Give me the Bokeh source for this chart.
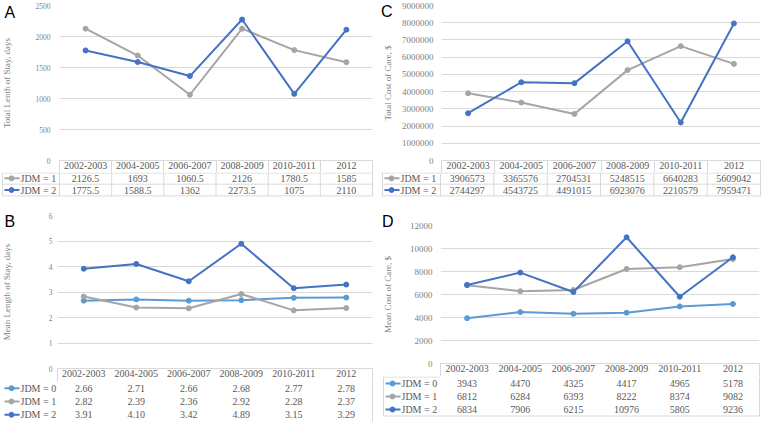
import math
from bokeh.plotting import figure
from bokeh.models import Range1d, FixedTicker, BasicTickFormatter
from bokeh.layouts import column, row
from bokeh.core.properties import value
from bokeh.embed import file_html
from bokeh.resources import INLINE

# ---------------- data ----------------
periods = ["2002-2003", "2004-2005", "2006-2007", "2008-2009", "2010-2011", "2012"]

a_ticks = [0, 500, 1000, 1500, 2000, 2500]
a_jdm1 = [2126.5, 1693, 1060.5, 2126, 1780.5, 1585]
a_jdm2 = [1775.5, 1588.5, 1362, 2273.5, 1075, 2110]

c_ticks = [0, 1000000, 2000000, 3000000, 4000000, 5000000, 6000000, 7000000, 8000000, 9000000]
c_jdm1 = [3906573, 3365576, 2704531, 5248515, 6640283, 5609042]
c_jdm2 = [2744297, 4543725, 4491015, 6923076, 2210579, 7959471]

b_ticks = [0, 1, 2, 3, 4, 5, 6]
b_jdm0 = [2.66, 2.71, 2.66, 2.68, 2.77, 2.78]
b_jdm1 = [2.82, 2.39, 2.36, 2.92, 2.28, 2.37]
b_jdm2 = [3.91, 4.10, 3.42, 4.89, 3.15, 3.29]

d_ticks = [0, 2000, 4000, 6000, 8000, 10000, 12000]
d_jdm0 = [3943, 4470, 4325, 4417, 4965, 5178]
d_jdm1 = [6812, 6284, 6393, 8222, 8374, 9082]
d_jdm2 = [6834, 7906, 6215, 10976, 5805, 9236]

# ---------------- style ----------------
GRAY = "#A5A5A5"
DARK = "#4472C4"
LIGHT = "#5B9BD5"
GRID = "#D9D9D9"
SERIF = "Liberation Serif"
SANS = "Liberation Sans"
TXT = "#595959"
AX = "#7F7F7F"
SIDE_W = 18
TABLE_FONT = "10px"


def fmt_g(v):
    return f"{v:g}"


def fmt_2(v):
    return f"{v:.2f}"


def fmt_i(v):
    return f"{int(v)}"


def plain_fig(width, height, x_range, y_range):
    f = figure(width=width, height=height, x_range=x_range, y_range=y_range,
               output_backend="svg", toolbar_location=None, min_border=0,
               x_axis_location=None, y_axis_location=None, frame_align=False)
    f.outline_line_color = None
    f.background_fill_color = "white"
    f.border_fill_color = "white"
    f.grid.visible = False
    return f


def make_panel(cfg, series, fmt):
    width = cfg["width"]
    fl = cfg["left"]
    fr = width - cfg["right"]
    n = len(periods)
    unit = (fr - fl) / n
    xs = list(range(n))
    ticks = cfg["ticks"]
    ymax = ticks[-1]
    ch = cfg["chart_h"]

    # ---- side strip: panel letter and y title ----
    side = plain_fig(SIDE_W, ch, Range1d(0, SIDE_W), Range1d(ch, 0))
    side.text(x=[cfg["letter_x"]], y=[cfg["letter_y"]], text=[cfg["letter"]],
              text_font=value(SANS), text_font_size=value("16px"), text_color="black",
              text_align="left", text_baseline="top")
    frame_mid = cfg["top"] + (ch - cfg["top"] - cfg["bottom"]) / 2
    side.text(x=[cfg["ylabel_x"]], y=[frame_mid], text=[cfg["ylabel"]], angle=math.pi / 2,
              text_font=value(SERIF), text_font_size=value("9px"), text_color=AX,
              text_align="center", text_baseline="middle")

    # ---- line chart ----
    chart = figure(width=width - SIDE_W, height=ch,
                   x_range=Range1d(-0.5, n - 0.5), y_range=Range1d(0, ymax),
                   output_backend="svg", toolbar_location=None, frame_align=False,
                   min_border_left=fl - SIDE_W, min_border_right=cfg["right"],
                   min_border_top=cfg["top"], min_border_bottom=cfg["bottom"])
    chart.outline_line_color = None
    chart.background_fill_color = "white"
    chart.border_fill_color = "white"
    chart.xgrid.visible = False
    chart.ygrid.grid_line_color = GRID
    chart.ygrid.grid_line_width = 1

    yax = chart.yaxis[0]
    yax.ticker = FixedTicker(ticks=ticks)
    yax.formatter = BasicTickFormatter(use_scientific=False)
    yax.axis_line_color = None
    yax.major_tick_line_color = None
    yax.minor_tick_line_color = None
    yax.major_tick_out = 0
    yax.minor_tick_out = 0
    yax.major_label_text_font = SERIF
    yax.major_label_text_font_size = cfg["tick_size"]
    yax.major_label_text_color = AX
    yax.major_label_standoff = cfg["tick_standoff"]

    # category header row of the data table = the x axis
    xax = chart.xaxis[0]
    xax.ticker = FixedTicker(ticks=xs, minor_ticks=cfg["header_lines"])
    xax.major_label_overrides = {i: p for i, p in enumerate(periods)}
    xax.major_tick_line_color = None
    xax.major_tick_out = 0
    xax.minor_tick_line_color = GRID
    xax.minor_tick_out = cfg["bottom"]
    xax.minor_tick_in = 0
    xax.axis_line_color = GRID
    xax.major_label_standoff = 1 - cfg["bottom"]
    xax.major_label_text_font = SERIF
    xax.major_label_text_font_size = TABLE_FONT
    xax.major_label_text_color = TXT

    for name, vals, color in series:
        chart.line(xs, vals, line_color=color, line_width=2)
        chart.scatter(xs, vals, size=5, fill_color=color, line_color=color, marker="circle")

    # ---- data table below ----
    th = cfg["table_h"]
    x0 = -0.5 - fl / unit
    tab = plain_fig(width, th, Range1d(x0, x0 + width / unit), Range1d(th, 0))

    def dx(px):
        return x0 + px / unit

    bounds = cfg["row_bounds"]
    centers = [(bounds[i] + bounds[i + 1]) / 2 for i in range(len(bounds) - 1)]
    legx = dx(cfg["leg_left"])

    if cfg["style"] == "grid":
        for b in bounds:
            bb = max(b, 0.5)
            tab.segment(x0=legx, y0=bb, x1=n - 0.5, y1=bb, line_color=GRID, line_width=1)
        for k in range(n + 1):
            xb = k - 0.5
            tab.segment(x0=xb, y0=bounds[0], x1=xb, y1=bounds[-1], line_color=GRID, line_width=1)
        tab.segment(x0=legx, y0=bounds[0], x1=legx, y1=bounds[-1], line_color=GRID, line_width=1)
    else:
        tab.segment(x0=n - 0.5, y0=0, x1=n - 0.5, y1=bounds[-1], line_color=GRID, line_width=1)
        if cfg.get("box"):
            tab.segment(x0=legx, y0=bounds[-1], x1=n - 0.5, y1=bounds[-1], line_color=GRID, line_width=1)
            tab.segment(x0=legx, y0=bounds[0], x1=legx, y1=bounds[-1], line_color=GRID, line_width=1)
            tab.segment(x0=legx, y0=bounds[0], x1=-0.5, y1=bounds[0], line_color=GRID, line_width=1)

    for (name, vals, color), yc in zip(series, centers):
        tab.segment(x0=dx(cfg["leg_left"] + 2), y0=yc, x1=dx(cfg["leg_left"] + 17), y1=yc,
                    line_color=color, line_width=2)
        tab.scatter(x=[dx(cfg["leg_left"] + 9)], y=[yc], size=5, fill_color=color,
                    line_color=color, marker="circle")
        tab.text(x=[dx(cfg["leg_left"] + 18)], y=[yc], text=[name],
                 text_font=value(SERIF), text_font_size=value(TABLE_FONT), text_color=TXT,
                 text_align="left", text_baseline="middle")
        tab.text(x=xs, y=[yc] * n, text=[fmt(v) for v in vals],
                 text_font=value(SERIF), text_font_size=value(TABLE_FONT), text_color=TXT,
                 text_align="center", text_baseline="middle")

    return column(row(side, chart, spacing=0), tab, spacing=0)


cfg_a = dict(width=380, chart_h=172, top=5, bottom=12, left=59, right=8, table_h=38,
             row_bounds=[0, 11.7, 23.4], style="grid", ticks=a_ticks,
             ylabel="Total Lenth of Stay, days", ylabel_x=6, tick_size="7.5px", tick_standoff=9,
             header_lines=[-0.5, 0.5, 1.5, 2.5, 3.5, 4.5, 5.5],
             letter="A", letter_x=4, letter_y=3.5, leg_left=2)
cfg_c = dict(width=382, chart_h=172, top=5, bottom=12, left=60, right=2, table_h=38,
             row_bounds=[0, 11.7, 23.4], style="grid", ticks=c_ticks,
             ylabel="Total Cost of Care, $", ylabel_x=7, tick_size="9px", tick_standoff=8,
             header_lines=[-0.5, 0.5, 1.5, 2.5, 3.5, 4.5, 5.5],
             letter="C", letter_x=0.5, letter_y=2, leg_left=2)
cfg_b = dict(width=380, chart_h=171, top=5, bottom=13, left=57, right=8, table_h=41,
             row_bounds=[0, 13.3, 26.6, 39.9], style="open", ticks=b_ticks,
             ylabel="Mean Length of Stay, days", ylabel_x=6, tick_size="7.5px", tick_standoff=5,
             header_lines=[-0.5, 5.5],
             letter="B", letter_x=4, letter_y=2, leg_left=2)
cfg_d = dict(width=382, chart_h=166, top=15, bottom=13, left=60, right=3, table_h=46,
             row_bounds=[0.5, 13.5, 26.5, 39.5], style="open", box=True, ticks=d_ticks,
             ylabel="Mean Cost of Care, $", ylabel_x=7, tick_size="9px", tick_standoff=8,
             header_lines=[-0.5, 5.5],
             letter="D", letter_x=1.5, letter_y=2, leg_left=3)

panel_a = make_panel(cfg_a, [("JDM = 1", a_jdm1, GRAY), ("JDM = 2", a_jdm2, DARK)], fmt_g)
panel_c = make_panel(cfg_c, [("JDM = 1", c_jdm1, GRAY), ("JDM = 2", c_jdm2, DARK)], fmt_i)
panel_b = make_panel(cfg_b, [("JDM = 0", b_jdm0, LIGHT), ("JDM = 1", b_jdm1, GRAY),
                             ("JDM = 2", b_jdm2, DARK)], fmt_2)
panel_d = make_panel(cfg_d, [("JDM = 0", d_jdm0, LIGHT), ("JDM = 1", d_jdm1, GRAY),
                             ("JDM = 2", d_jdm2, DARK)], fmt_i)

layout = column(row(panel_a, panel_c, spacing=0), row(panel_b, panel_d, spacing=0), spacing=0)

with open("out.html", "w") as f:
    f.write(file_html(layout, INLINE))
